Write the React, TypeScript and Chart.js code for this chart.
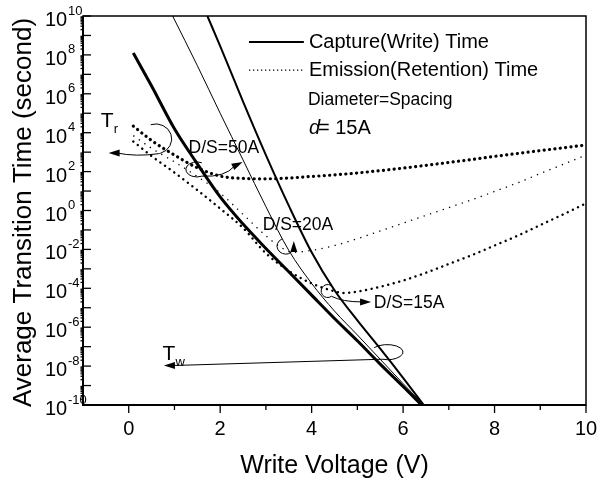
import React, { useEffect, useRef } from "react";
import { Chart, registerables } from "chart.js";

Chart.register(...registerables);

const FONT = '"Liberation Sans", Arial, Helvetica, sans-serif';

// ---- Capture (write) time, solid lines ----
const capX50 = [0.1, 0.5, 1.0, 1.5, 2.0, 2.5, 3.0, 3.5, 4.0, 4.5, 5.0, 5.5, 6.0, 6.4];
const capT50 = [1.26e8, 2.51e6, 1.58e4, 251, 5.01, 0.2, 1.12e-2, 7.08e-4, 4.47e-5, 2.82e-6, 2.0e-7, 1.26e-8, 8.91e-10, 1e-10];

const capX20 = [0.96, 1.5, 2.0, 2.5, 3.0, 3.5, 4.0, 4.5, 5.0, 5.5, 6.0, 6.45];
const capT20 = [1e10, 2.82e7, 1e5, 398, 1.58, 8.91e-3, 1.78e-4, 6.76e-6, 3.98e-7, 2.24e-8, 1.26e-9, 1e-10];

const capX15 = [1.72, 2.0, 2.5, 3.0, 3.5, 4.0, 4.5, 5.0, 5.5, 6.0, 6.45];
const capT15 = [1e10, 2.82e8, 3.98e5, 708, 1.78, 7.08e-3, 7.94e-5, 2.24e-6, 7.94e-8, 2.51e-9, 1e-10];

// ---- Emission (retention) time, dotted lines ----
const emiX50 = [0.1, 0.5, 1.0, 1.5, 2.0, 2.5, 3.0, 3.5, 4.0, 4.5, 5.0, 5.5, 6.0, 6.5, 7.0, 7.5, 8.0, 8.5, 9.0, 9.5, 10];
const emiT50 = [2.19e4, 3.98e3, 708, 158, 58.9, 44.7, 42.7, 46.8, 56.2, 67.6, 85.1, 112, 151, 209, 295, 417, 603, 851, 1.2e3, 1.66e3, 2.34e3];

const emiX20 = [0.1, 0.5, 1.0, 1.5, 2.0, 2.5, 3.0, 3.3, 3.58, 4.0, 4.5, 5.0, 5.5, 6.0, 6.5, 7.0, 7.5, 8.0, 8.5, 9.0, 9.5, 10];
const emiT20 = [7.08e3, 1.58e3, 316, 56.2, 7.94, 0.631, 5.01e-2, 1.41e-2, 7.08e-3, 8.91e-3, 1.58e-2, 3.55e-2, 8.91e-2, 0.224, 0.562, 1.41, 3.55, 9.55, 26.3, 79.4, 234, 708];

const emiX15 = [0.1, 0.5, 1.0, 1.5, 2.0, 2.5, 3.0, 3.5, 4.0, 4.5, 4.7, 5.0, 5.5, 6.0, 6.5, 7.0, 7.5, 8.0, 8.5, 9.0, 9.5, 10];
const emiT15 = [3.55e3, 631, 89.1, 11.2, 1.26, 0.126, 6.31e-3, 7.94e-4, 1.78e-4, 7.08e-5, 5.75e-5, 6.76e-5, 1.2e-4, 2.51e-4, 6.31e-4, 1.78e-3, 5.01e-3, 1.58e-2, 5.01e-2, 0.178, 0.631, 2.34];

// ---- Axes ----
const xMin = -1;
const xMax = 10;
const xTickLabels = [0, 2, 4, 6, 8, 10];
const xMinorTicks = [1, 3, 5, 7, 9];
const yExpMin = -10;
const yExpMax = 10;
const yLabelExps = [10, 8, 6, 4, 2, 0, -2, -4, -6, -8, -10];

const xTitle = "Write Voltage (V)";
const yTitle = "Average Transition Time (second)";
const legendSolid = "Capture(Write) Time";
const legendDotted = "Emission(Retention) Time";
const note1 = "Diameter=Spacing";
const note2a = "d";
const note2b = "= 15A";

function pts(xs: number[], ys: number[]) {
  return xs.map((x, i) => ({ x, y: ys[i] }));
}

function arrowHead(ctx: CanvasRenderingContext2D, tx: number, ty: number, ang: number, len = 10, half = 3.5) {
  const bx = tx - len * Math.cos(ang);
  const by = ty - len * Math.sin(ang);
  ctx.beginPath();
  ctx.moveTo(tx, ty);
  ctx.lineTo(bx + half * Math.sin(ang), by - half * Math.cos(ang));
  ctx.lineTo(bx - half * Math.sin(ang), by + half * Math.cos(ang));
  ctx.closePath();
  ctx.fill();
}

const decorPlugin = {
  id: "decor",
  afterDatasetsDraw(chart: any) {
    const ctx: CanvasRenderingContext2D = chart.ctx;
    const xs = chart.scales.x;
    const ys = chart.scales.y;
    const ca = chart.chartArea;
    const X = (v: number) => xs.getPixelForValue(v);
    const Y = (e: number) => ys.getPixelForValue(Math.pow(10, e));
    ctx.save();
    ctx.strokeStyle = "#000";
    ctx.fillStyle = "#000";
    ctx.setLineDash([]);
    ctx.lineCap = "butt";

    // frame
    ctx.lineWidth = 1.5;
    ctx.strokeRect(ca.left, ca.top, ca.right - ca.left, ca.bottom - ca.top);
    ctx.lineWidth = 2;
    ctx.beginPath();
    ctx.moveTo(ca.left, ca.top);
    ctx.lineTo(ca.left, ca.bottom);
    ctx.lineTo(ca.right, ca.bottom);
    ctx.stroke();

    // y ticks
    ctx.lineWidth = 1.3;
    for (let e = yExpMin; e <= yExpMax; e++) {
      const y = Y(e);
      ctx.beginPath();
      ctx.moveTo(ca.left, y);
      ctx.lineTo(ca.left + 8, y);
      ctx.stroke();
      if (e < yExpMax) {
        for (let k = 2; k <= 9; k++) {
          const yy = ys.getPixelForValue(k * Math.pow(10, e));
          ctx.beginPath();
          ctx.moveTo(ca.left - 2.5, yy);
          ctx.lineTo(ca.left, yy);
          ctx.stroke();
        }
      }
    }
    // x ticks
    for (const v of xTickLabels) {
      ctx.beginPath();
      ctx.moveTo(X(v), ca.bottom);
      ctx.lineTo(X(v), ca.bottom + 8);
      ctx.stroke();
    }
    for (const v of xMinorTicks) {
      ctx.beginPath();
      ctx.moveTo(X(v), ca.bottom);
      ctx.lineTo(X(v), ca.bottom + 5);
      ctx.stroke();
    }

    // x labels
    ctx.textBaseline = "middle";
    ctx.textAlign = "center";
    ctx.font = `20px ${FONT}`;
    for (const v of xTickLabels) ctx.fillText(String(v), X(v), ca.bottom + 24);

    // y labels
    ctx.textAlign = "left";
    for (const e of yLabelExps) {
      const y = Y(e);
      ctx.font = `20px ${FONT}`;
      ctx.fillText("10", 45, y + 4.5);
      ctx.font = `13px ${FONT}`;
      ctx.fillText(String(e), 68, y - 5);
    }

    // axis titles
    ctx.textAlign = "center";
    ctx.font = `25px ${FONT}`;
    ctx.fillText(xTitle, (ca.left + ca.right) / 2, 466);
    ctx.save();
    ctx.translate(24, (ca.top + ca.bottom) / 2 + 2);
    ctx.rotate(-Math.PI / 2);
    ctx.font = `26px ${FONT}`;
    ctx.fillText(yTitle, 0, 0);
    ctx.restore();

    // legend
    ctx.textAlign = "left";
    ctx.lineWidth = 2;
    ctx.beginPath();
    ctx.moveTo(X(2.63), Y(8.66));
    ctx.lineTo(X(3.83), Y(8.66));
    ctx.stroke();
    ctx.lineWidth = 1.3;
    ctx.setLineDash([1.3, 2.7]);
    ctx.beginPath();
    ctx.moveTo(X(2.63), Y(7.22));
    ctx.lineTo(X(3.83), Y(7.22));
    ctx.stroke();
    ctx.setLineDash([]);
    ctx.font = `20px ${FONT}`;
    ctx.fillText(legendSolid, X(3.94), Y(8.66));
    ctx.fillText(legendDotted, X(3.94), Y(7.22));
    ctx.font = `17.5px ${FONT}`;
    ctx.fillText(note1, X(3.92), Y(5.68));
    ctx.font = `italic 20px ${FONT}`;
    ctx.fillText(note2a, X(3.94), Y(4.24));
    ctx.font = `20px ${FONT}`;
    ctx.fillText(note2b, X(3.94) + 9, Y(4.24));

    // D/S labels
    ctx.font = `17.5px ${FONT}`;
    ctx.textAlign = "center";
    ctx.fillText("D/S=50A", X(2.08), Y(3.21));
    ctx.fillText("D/S=20A", X(3.70), Y(-0.75));
    ctx.textAlign = "left";
    ctx.fillText("D/S=15A", X(5.36), Y(-4.76));

    // T_r and T_w labels
    ctx.font = `21px ${FONT}`;
    ctx.fillText("T", X(-0.61), Y(4.6));
    ctx.font = `13px ${FONT}`;
    ctx.fillText("r", X(-0.61) + 13, Y(4.6) + 8);
    ctx.font = `21px ${FONT}`;
    ctx.fillText("T", X(0.74), Y(-7.38));
    ctx.font = `13px ${FONT}`;
    ctx.fillText("w", X(0.74) + 13, Y(-7.38) + 8);

    ctx.lineWidth = 1;
    // T_r ellipse + arrow
    {
      const cx = X(0.59), cy = Y(3.68);
      ctx.beginPath();
      ctx.ellipse(cx, cy, 16, 15, 0, -0.6 * Math.PI, 0.45 * Math.PI, false);
      const tx = X(-0.44), ty = Y(2.96);
      ctx.quadraticCurveTo(cx - 20, cy + 18, tx + 8, ty);
      ctx.stroke();
      arrowHead(ctx, tx, ty, Math.PI, 11, 3.5);
    }
    // D/S=50A ellipse + arrow
    {
      const cx = X(1.49), cy = Y(2.11);
      ctx.beginPath();
      ctx.ellipse(cx, cy, 11, 7.5, 0, -0.35 * Math.PI, 0.35 * Math.PI, true);
      const tx = X(2.49), ty = Y(2.49);
      const qx = cx + 28, qy = cy + 8;
      ctx.quadraticCurveTo(qx, qy, tx - 8, ty + 4);
      ctx.stroke();
      arrowHead(ctx, tx, ty, Math.atan2(-4, 8), 11, 3.5);
    }
    // D/S=20A arc + arrow up
    {
      const cx = X(3.44), cy = Y(-1.83);
      ctx.beginPath();
      ctx.ellipse(cx, cy, 9, 8, 0, -0.65 * Math.PI, 0.4 * Math.PI, true);
      const tx = X(3.61), ty = Y(-1.57);
      ctx.lineTo(tx, ty + 9);
      ctx.stroke();
      arrowHead(ctx, tx, ty, -Math.PI / 2, 11, 3.5);
    }
    // D/S=15A ellipse + arrow right
    {
      const cx = X(4.35), cy = Y(-4.14);
      ctx.beginPath();
      ctx.ellipse(cx, cy, 6.5, 6.5, 0, -0.2 * Math.PI, 0.3 * Math.PI, true);
      const tx = X(5.30), ty = Y(-4.70);
      ctx.quadraticCurveTo(cx + 15, ty, tx - 9, ty);
      ctx.stroke();
      arrowHead(ctx, tx, ty, 0, 11, 3.5);
    }
    // T_w ellipse + arrow left
    {
      const cx = X(5.65), cy = Y(-7.28);
      ctx.beginPath();
      ctx.ellipse(cx, cy, 16, 7.5, 0, -0.8 * Math.PI, 0.6 * Math.PI, false);
      const tx = X(0.77), ty = Y(-7.97);
      ctx.lineTo(tx + 9, ty);
      ctx.stroke();
      arrowHead(ctx, tx, ty, Math.PI, 11, 3.5);
    }
    ctx.restore();
  },
};

export default function App() {
  const ref = useRef<HTMLCanvasElement>(null);
  useEffect(() => {
    if (!ref.current) return;
    const common = { pointRadius: 0, fill: false, cubicInterpolationMode: "monotone" as const, borderColor: "#000" };
    const chart = new Chart(ref.current, {
      type: "line",
      data: {
        datasets: [
          { ...common, label: "cap50", data: pts(capX50, capT50), borderWidth: 3 },
          { ...common, label: "cap20", data: pts(capX20, capT20), borderWidth: 1 },
          { ...common, label: "cap15", data: pts(capX15, capT15), borderWidth: 2 },
          { ...common, label: "emi50", data: pts(emiX50, emiT50), borderWidth: 3.2, borderDash: [0.1, 5.3], borderCapStyle: "round" },
          { ...common, label: "emi20", data: pts(emiX20, emiT20), borderWidth: 1.3, borderDash: [1.3, 5.4], borderCapStyle: "butt" },
          { ...common, label: "emi15", data: pts(emiX15, emiT15), borderWidth: 2.4, borderDash: [0.1, 5.6], borderCapStyle: "round" },
        ] as any,
      },
      options: {
        responsive: false,
        animation: false,
        events: [],
        layout: { padding: { left: 0, right: 15, top: 16, bottom: 0 } },
        plugins: { legend: { display: false }, tooltip: { enabled: false }, title: { display: false } },
        scales: {
          x: {
            type: "linear",
            min: xMin,
            max: xMax,
            grid: { display: false },
            border: { display: false },
            ticks: { display: false },
            afterFit: (s: any) => { s.height = 79; },
          },
          y: {
            type: "logarithmic",
            min: Math.pow(10, yExpMin),
            max: Math.pow(10, yExpMax),
            grid: { display: false },
            border: { display: false },
            ticks: { display: false },
            afterFit: (s: any) => { s.width = 83; },
          },
        },
      } as any,
      plugins: [decorPlugin],
    });
    return () => chart.destroy();
  }, []);
  return (
    <div style={{ position: "absolute", left: 0, top: 0, width: 601, height: 484, background: "#fff" }}>
      <canvas ref={ref} width={601} height={484} style={{ width: 601, height: 484, display: "block" }} />
    </div>
  );
}
